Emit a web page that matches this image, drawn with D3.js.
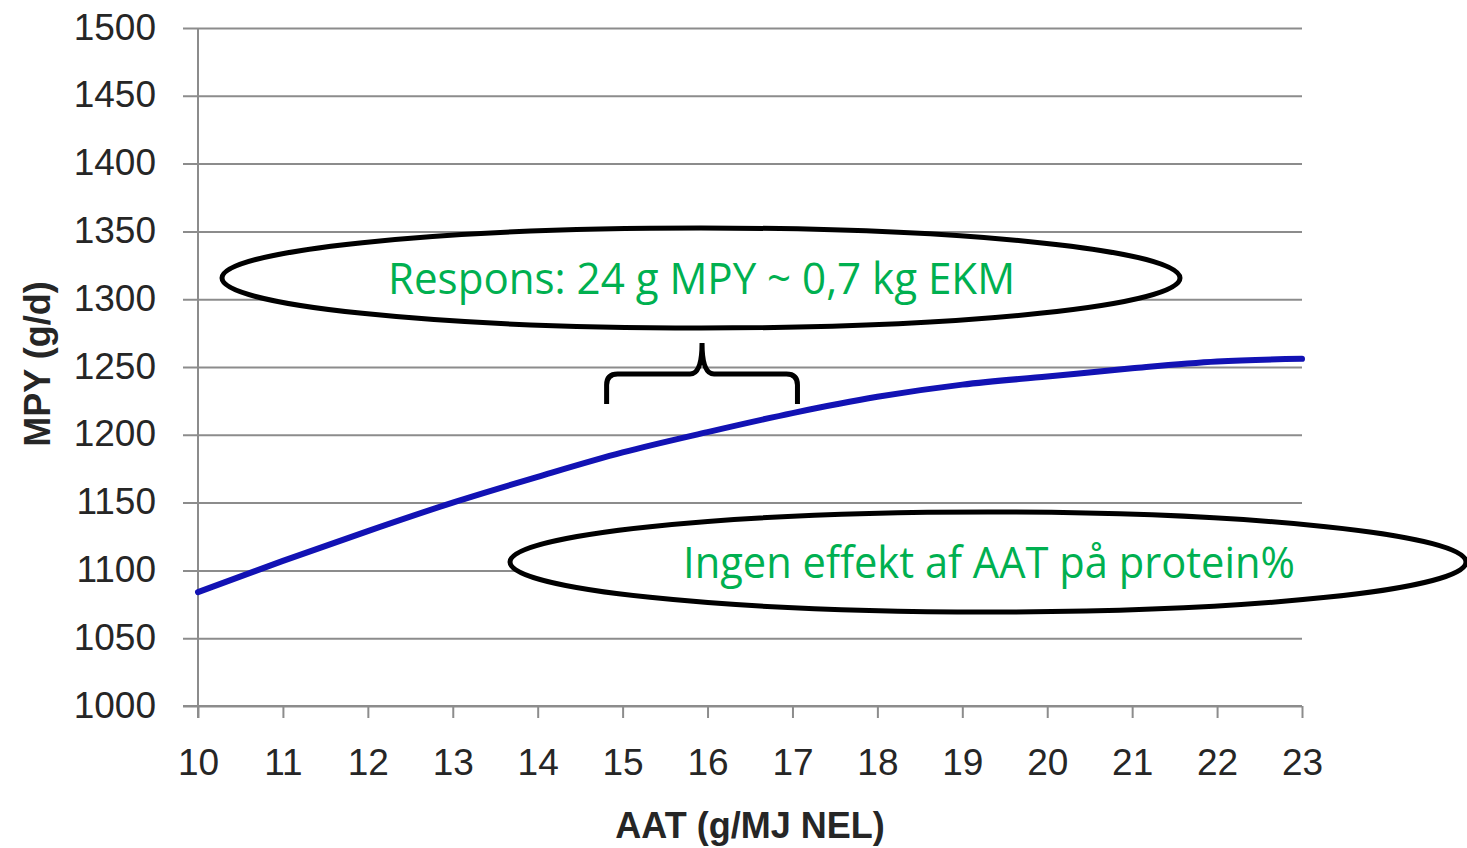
<!DOCTYPE html>
<html>
<head>
<meta charset="utf-8">
<script src="https://cdn.jsdelivr.net/npm/d3@7"></script>
<style>
  body { margin: 0; background: #fff; }
  svg { display: block; }
</style>
</head>
<body>
<div id="chart"></div>
<script>
// data
var aat = [10, 11, 12, 13, 14, 15, 16, 17, 18, 19, 20, 21, 22, 23];
var mpy = [1084, 1107, 1129, 1150, 1169, 1187, 1202, 1216, 1228, 1237, 1243, 1249, 1254, 1256];
var yTicks = [1000, 1050, 1100, 1150, 1200, 1250, 1300, 1350, 1400, 1450, 1500];
var xTicks = aat;
var noteTop = "Respons: 24 g MPY ~ 0,7 kg EKM";
var noteBottom = "Ingen effekt af AAT på protein%";

var width = 1467, height = 848;
var plotLeft = 198, plotRight = 1302, plotTop = 28, plotBottom = 706;

var svg = d3.select("#chart").append("svg")
    .attr("width", width)
    .attr("height", height);

var x = d3.scaleLinear().domain([10, 23]).range([plotLeft, plotRight]);
var y = d3.scaleLinear().domain([1000, 1500]).range([plotBottom, plotTop]);

var labelFont = "'Liberation Sans', Arial, sans-serif";

// gridlines
var grid = svg.append("g")
    .attr("transform", "translate(" + plotRight + ",0)")
    .call(d3.axisLeft(y).tickValues(yTicks).tickSize(plotRight - 183).tickFormat(""));
grid.select(".domain").remove();
grid.selectAll("line").attr("stroke", "#8c8c8c").attr("stroke-width", 2);

// y axis labels
var yAxis = svg.append("g")
    .attr("transform", "translate(" + plotLeft + ",0)")
    .call(d3.axisLeft(y).tickValues(yTicks).tickSize(0).tickPadding(42).tickFormat(d3.format("d")));
yAxis.select(".domain").remove();
yAxis.selectAll("text")
    .attr("font-family", labelFont)
    .attr("font-size", 37)
    .attr("fill", "#262626")
    .attr("dy", "0.3em");

// y axis line
svg.append("line")
    .attr("x1", plotLeft).attr("x2", plotLeft)
    .attr("y1", y(1500)).attr("y2", plotBottom + 12)
    .attr("stroke", "#8c8c8c").attr("stroke-width", 2);

// x axis
var xAxis = svg.append("g")
    .attr("transform", "translate(0," + plotBottom + ")")
    .call(d3.axisBottom(x).tickValues(xTicks).tickSize(12).tickPadding(31));
xAxis.select(".domain").attr("d", "M183,0H" + plotRight).attr("stroke", "#8c8c8c").attr("stroke-width", 2);
xAxis.selectAll("line").attr("stroke", "#8c8c8c").attr("stroke-width", 2);
xAxis.selectAll("text")
    .attr("font-family", labelFont)
    .attr("font-size", 37)
    .attr("fill", "#262626");

// axis titles
svg.append("text")
    .attr("x", 750).attr("y", 838)
    .attr("text-anchor", "middle")
    .attr("font-family", labelFont)
    .attr("font-weight", "bold")
    .attr("font-size", 36)
    .attr("fill", "#262626")
    .text("AAT (g/MJ NEL)");

svg.append("text")
    .attr("transform", "translate(50,364) rotate(-90)")
    .attr("text-anchor", "middle")
    .attr("font-family", labelFont)
    .attr("font-weight", "bold")
    .attr("font-size", 36)
    .attr("fill", "#262626")
    .text("MPY (g/d)");

// the curve
var line = d3.line()
    .x((d, i) => x(aat[i]))
    .y(d => y(d))
    .curve(d3.curveMonotoneX);

svg.append("path")
    .datum(mpy)
    .attr("d", line)
    .attr("fill", "none")
    .attr("stroke", "#1212b4")
    .attr("stroke-width", 6)
    .attr("stroke-linecap", "round");

// callouts
var noteFont = "'Open Sans', 'Noto Sans', sans-serif";

svg.append("ellipse")
    .attr("cx", 701).attr("cy", 278)
    .attr("rx", 479).attr("ry", 50)
    .attr("fill", "#fff")
    .attr("stroke", "#000").attr("stroke-width", 5);

svg.append("text")
    .attr("x", 388).attr("y", 294)
    .attr("font-family", noteFont)
    .attr("font-size", 44)
    .attr("fill", "#00b050")
    .attr("textLength", 627)
    .attr("lengthAdjust", "spacingAndGlyphs")
    .text(noteTop);

svg.append("ellipse")
    .attr("cx", 988).attr("cy", 562)
    .attr("rx", 478).attr("ry", 50)
    .attr("fill", "#fff")
    .attr("stroke", "#000").attr("stroke-width", 5);

svg.append("text")
    .attr("x", 683).attr("y", 578)
    .attr("font-family", noteFont)
    .attr("font-size", 44)
    .attr("fill", "#00b050")
    .attr("textLength", 612)
    .attr("lengthAdjust", "spacingAndGlyphs")
    .text(noteBottom);

// brace spanning 15 to 17
var b0 = x(15) - 16, b1 = x(17) + 5, bm = (b0 + b1) / 2, by = 374;
svg.append("path")
    .attr("d", "M" + b0 + ",404 V" + (by + 11) + " Q" + b0 + "," + by + " " + (b0 + 11) + "," + by +
        " H" + (bm - 12) + " Q" + bm + "," + by + " " + bm + "," + (by - 31) +
        " Q" + bm + "," + by + " " + (bm + 12) + "," + by +
        " H" + (b1 - 11) + " Q" + b1 + "," + by + " " + b1 + "," + (by + 11) + " V404")
    .attr("fill", "none")
    .attr("stroke", "#000")
    .attr("stroke-width", 5);
</script>
</body>
</html>
